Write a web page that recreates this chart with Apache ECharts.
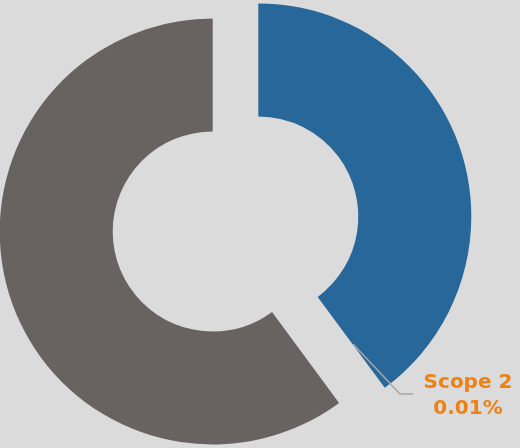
<!DOCTYPE html>
<html>
<head>
<meta charset="utf-8">
<style>
  html, body { margin: 0; padding: 0; background: #dbdbdb; }
  #chart { width: 520px; height: 448px; }
</style>
<script src="https://cdn.jsdelivr.net/npm/echarts@6/dist/echarts.min.js"></script>
</head>
<body>
<div id="chart"></div>
<script>
// Emission shares by scope (percent of total)
const categories = ['Scope 1', 'Scope 2', 'Scope 3'];
const shares = [39.88, 0.01, 60.11];
// the hairline-thin Scope 2 slice would only show as an antialiasing smear
const sliceColors = ['#28679a', 'rgba(40,103,154,0)', '#686261'];
const labelledSlices = ['Scope 2'];

// Label anchor and its leader line (drawn on top of the exploded slices)
const labelPos = [468, 396];
const leaderPoints = [[353, 344], [400, 394], [413, 394]];

const chart = echarts.init(document.getElementById('chart'), null, { renderer: 'canvas' });

const data = categories.map((name, i) => {
  const labelled = labelledSlices.includes(name);
  return {
    name: name,
    value: shares[i],
    selected: !labelled,
    itemStyle: { color: sliceColors[i] },
    label: { show: labelled },
    labelLine: { show: false }
  };
});

chart.setOption({
  backgroundColor: '#dbdbdb',
  animation: false,
  graphic: [{
    type: 'polyline',
    z: 100,
    silent: true,
    shape: { points: leaderPoints },
    style: { stroke: '#a6a6a6', lineWidth: 1.5, fill: null }
  }],
  series: [{
    type: 'pie',
    center: [235.5, 224],
    radius: [100, 213],
    startAngle: 90,
    clockwise: true,
    selectedMode: 'multiple',
    selectedOffset: 24,
    avoidLabelOverlap: false,
    emphasis: { disabled: true },
    itemStyle: { borderWidth: 0 },
    label: {
      position: 'outside',
      formatter: '{b}\n{d}%',
      color: '#ee8112',
      fontFamily: 'DejaVu Sans',
      fontWeight: 'bold',
      fontSize: 20,
      lineHeight: 26,
      align: 'center'
    },
    labelLayout: function () {
      return {
        x: labelPos[0],
        y: labelPos[1],
        align: 'center',
        verticalAlign: 'middle'
      };
    },
    data: data
  }]
});
</script>
</body>
</html>
